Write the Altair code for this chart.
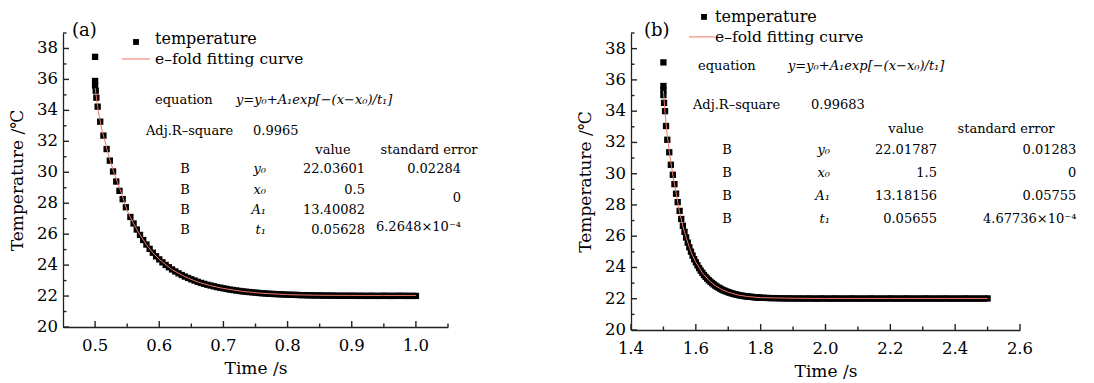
import altair as alt
import pandas as pd

FONT = "DejaVu Serif"
AX = "#222222"
FIT_COLOR = "#ee7766"

# ---------------- panel (a) data ----------------
TIME_A_START = [0.500, 0.500, 0.500, 0.501, 0.502, 0.504, 0.508, 0.513, 0.518, 0.523,
                0.528, 0.533, 0.538, 0.543, 0.548]
TEMP_A_START = [37.46, 35.90, 35.60, 35.27, 34.82, 34.24, 33.27, 32.37, 31.50, 30.75,
                30.05, 29.40, 28.80, 28.26, 27.74]
TIME_A_DENSE = [0.555, 0.560, 0.565, 0.570, 0.575, 0.580, 0.585, 0.590, 0.595, 0.600,
                0.605, 0.610, 0.615, 0.620, 0.625, 0.630, 0.635, 0.640, 0.645, 0.650,
                0.655, 0.660, 0.665, 0.670, 0.675, 0.680, 0.685, 0.690, 0.695, 0.700,
                0.705, 0.710, 0.715, 0.720, 0.725, 0.730, 0.735, 0.740, 0.745, 0.750,
                0.755, 0.760, 0.765, 0.770, 0.775, 0.780, 0.785, 0.790, 0.795, 0.800,
                0.805, 0.810, 0.815, 0.820, 0.825, 0.830, 0.835, 0.840, 0.845, 0.850,
                0.855, 0.860, 0.865, 0.870, 0.875, 0.880, 0.885, 0.890, 0.895, 0.900,
                0.905, 0.910, 0.915, 0.920, 0.925, 0.930, 0.935, 0.940, 0.945, 0.950,
                0.955, 0.960, 0.965, 0.970, 0.975, 0.980, 0.985, 0.990, 0.995, 1.000]
TEMP_A_DENSE = [27.11, 26.69, 26.30, 25.95, 25.62, 25.33, 25.05, 24.80, 24.57, 24.37,
                24.18, 24.01, 23.86, 23.72, 23.59, 23.47, 23.36, 23.26, 23.17, 23.08,
                23.00, 22.92, 22.85, 22.79, 22.73, 22.68, 22.63, 22.58, 22.54, 22.50,
                22.46, 22.42, 22.39, 22.36, 22.33, 22.30, 22.28, 22.26, 22.24, 22.22,
                22.20, 22.18, 22.17, 22.15, 22.14, 22.13, 22.12, 22.11, 22.10, 22.09,
                22.08, 22.08, 22.07, 22.06, 22.06, 22.05, 22.05, 22.04, 22.04, 22.04,
                22.03, 22.03, 22.03, 22.03, 22.02, 22.02, 22.02, 22.02, 22.02, 22.02,
                22.02, 22.01, 22.02, 22.01, 22.01, 22.02, 22.01, 22.01, 22.01, 22.02,
                22.01, 22.01, 22.01, 22.01, 22.02, 22.01, 22.01, 22.01, 22.01, 22.01]
FIT_A_TIME = [0.500, 0.505, 0.510, 0.515, 0.520, 0.525, 0.530, 0.540, 0.550, 0.560,
              0.570, 0.580, 0.590, 0.600, 0.620, 0.640, 0.660, 0.680, 0.700, 0.730,
              0.760, 0.800, 0.850, 0.900, 0.950, 1.000]
FIT_A_TEMP = [35.45, 33.95, 32.85, 32.05, 31.25, 30.55, 29.90, 28.78, 27.52, 26.68,
              25.95, 25.33, 24.80, 24.37, 23.71, 23.25, 22.91, 22.67, 22.49, 22.30,
              22.18, 22.09, 22.05, 22.04, 22.04, 22.04]

# ---------------- panel (b) data ----------------
TIME_B_START = [1.500, 1.500, 1.500, 1.500, 1.502, 1.505, 1.508, 1.512, 1.518, 1.523,
                1.529, 1.534, 1.539, 1.544, 1.550]
TEMP_B_START = [37.12, 35.61, 35.35, 35.03, 34.53, 34.00, 33.05, 32.17, 31.37, 30.57,
                29.93, 29.33, 28.72, 28.18, 27.62]
TIME_B_DENSE = [1.555, 1.560, 1.565, 1.570, 1.575, 1.580, 1.585, 1.590, 1.595, 1.600,
                1.605, 1.610, 1.615, 1.620, 1.625, 1.630, 1.635, 1.640, 1.645, 1.650,
                1.655, 1.660, 1.665, 1.670, 1.675, 1.680, 1.685, 1.690, 1.695, 1.700,
                1.705, 1.710, 1.715, 1.720, 1.725, 1.730, 1.735, 1.740, 1.745, 1.750,
                1.755, 1.760, 1.765, 1.770, 1.775, 1.780, 1.785, 1.790, 1.795, 1.800,
                1.81, 1.82, 1.83, 1.84, 1.85, 1.86, 1.87, 1.88, 1.89, 1.90,
                1.91, 1.92, 1.93, 1.94, 1.95, 1.96, 1.97, 1.98, 1.99, 2.00,
                2.01, 2.02, 2.03, 2.04, 2.05, 2.06, 2.07, 2.08, 2.09, 2.10,
                2.11, 2.12, 2.13, 2.14, 2.15, 2.16, 2.17, 2.18, 2.19, 2.20,
                2.21, 2.22, 2.23, 2.24, 2.25, 2.26, 2.27, 2.28, 2.29, 2.30,
                2.31, 2.32, 2.33, 2.34, 2.35, 2.36, 2.37, 2.38, 2.39, 2.40,
                2.41, 2.42, 2.43, 2.44, 2.45, 2.46, 2.47, 2.48, 2.49, 2.50]
TEMP_B_DENSE = [27.10, 26.67, 26.28, 25.92, 25.59, 25.29, 25.01, 24.76, 24.53, 24.33,
                24.14, 23.96, 23.80, 23.66, 23.52, 23.40, 23.29, 23.18, 23.09, 23.00,
                22.92, 22.84, 22.77, 22.71, 22.65, 22.59, 22.54, 22.50, 22.46, 22.42,
                22.38, 22.35, 22.32, 22.29, 22.27, 22.24, 22.22, 22.20, 22.18, 22.17,
                22.15, 22.14, 22.13, 22.12, 22.11, 22.10, 22.09, 22.08, 22.07, 22.07,
                22.06, 22.05, 22.04, 22.04, 22.03, 22.03, 22.02, 22.02, 22.02, 22.02,
                22.01, 22.02, 22.01, 22.01, 22.02, 22.01, 22.01, 22.01, 22.02, 22.01,
                22.01, 22.01, 22.02, 22.01, 22.01, 22.01, 22.01, 22.02, 22.01, 22.01,
                22.01, 22.01, 22.01, 22.02, 22.01, 22.01, 22.01, 22.01, 22.01, 22.02,
                22.01, 22.01, 22.01, 22.01, 22.02, 22.01, 22.01, 22.01, 22.01, 22.01,
                22.02, 22.01, 22.01, 22.01, 22.01, 22.01, 22.02, 22.01, 22.01, 22.01,
                22.01, 22.01, 22.02, 22.01, 22.01, 22.01, 22.01, 22.01, 22.01, 22.02]
FIT_B_TIME = [1.500, 1.505, 1.510, 1.515, 1.520, 1.525, 1.530, 1.540, 1.550, 1.560,
              1.570, 1.580, 1.590, 1.600, 1.620, 1.640, 1.660, 1.680, 1.700, 1.730,
              1.760, 1.800, 1.900, 2.000, 2.200, 2.500]
FIT_B_TEMP = [35.30, 33.90, 32.80, 31.95, 31.15, 30.45, 29.80, 28.68, 27.50, 26.64,
              25.92, 25.29, 24.76, 24.33, 23.66, 23.18, 22.84, 22.59, 22.42, 22.24,
              22.14, 22.07, 22.03, 22.02, 22.02, 22.02]

# ---------------- axis tick values / labels ----------------
Y_MAJOR = [20, 22, 24, 26, 28, 30, 32, 34, 36, 38]
Y_MINOR = [21, 23, 25, 27, 29, 31, 33, 35, 37, 39]
XA_MAJOR = [0.5, 0.6, 0.7, 0.8, 0.9, 1.0]
XA_MINOR = [0.55, 0.65, 0.75, 0.85, 0.95, 1.05]
XB_MAJOR = [1.4, 1.6, 1.8, 2.0, 2.2, 2.4, 2.6]
XB_MINOR = [1.5, 1.7, 1.9, 2.1, 2.3, 2.5]

# ---------------- fit table texts ----------------
LEGEND_POINTS = "temperature"
LEGEND_LINE = "e\u2013fold fitting curve"
EQUATION = "y=y\u2080+A\u2081exp[\u2212(x\u2212x\u2080)/t\u2081]"
PARAMS = ["y\u2080", "x\u2080", "A\u2081", "t\u2081"]
VALUES_A = ["22.03601", "0.5", "13.40082", "0.05628"]
ERRORS_A = ["0.02284", "0", "6.2648\u00d710\u207b\u2074"]
ADJ_A = "0.9965"
VALUES_B = ["22.01787", "1.5", "13.18156", "0.05655"]
ERRORS_B = ["0.01283", "0", "0.05755", "4.67736\u00d710\u207b\u2074"]
ADJ_B = "0.99683"

ONE = pd.DataFrame({"k": [0]})
Y_DOM = [20, 39]


def txt(x, y, s, align="left", size=13, style="normal"):
    return alt.Chart(ONE).mark_text(
        text=s, align=align, baseline="middle", font=FONT, fontSize=size,
        fontStyle=style, color="black"
    ).encode(x=alt.datum(x), y=alt.datum(y))


def seg_rule(x1, x2, y1, y2):
    # one short axis tick, drawn through the chart's own scales
    return alt.Chart(ONE).mark_rule(color=AX, strokeWidth=1.4, opacity=1).encode(
        x=alt.datum(x1), x2=alt.datum(x2), y=alt.datum(y1), y2=alt.datum(y2))


def panel(times, temps, fit_t, fit_y, xdom, xmaj, xmin, w, h, extra):
    xs = alt.Scale(domain=xdom, nice=False, zero=False)
    ys = alt.Scale(domain=Y_DOM, nice=False, zero=False)
    ux = (xdom[1] - xdom[0]) / w      # data units per pixel (x)
    uy = (Y_DOM[1] - Y_DOM[0]) / h    # data units per pixel (y)
    pts = pd.DataFrame({"t": times, "T": temps})
    fit = pd.DataFrame({"t": fit_t, "T": fit_y})
    xaxis = alt.Axis(labels=False, ticks=False, grid=False, title="Time /s",
                     titlePadding=33)
    yaxis = alt.Axis(labels=False, ticks=False, grid=False, title="Temperature /\u2103",
                     titlePadding=37)
    X = lambda f: alt.X(f, type="quantitative", scale=xs)
    Y = lambda f: alt.Y(f, type="quantitative", scale=ys)

    scatter = alt.Chart(pts).mark_square(size=40, color="black", opacity=1).encode(
        x=alt.X("t:Q", scale=xs, axis=xaxis), y=alt.Y("T:Q", scale=ys, axis=yaxis))
    line = alt.Chart(fit).mark_line(color=FIT_COLOR, strokeWidth=1).encode(
        x=X("t"), y=Y("T"))

    # inward ticks (one small rule per tick value)
    ticks = []
    for v in xmaj:
        ticks.append(seg_rule(v, v, Y_DOM[0], Y_DOM[0] + 6 * uy))
    for v in xmin:
        ticks.append(seg_rule(v, v, Y_DOM[0], Y_DOM[0] + 3.5 * uy))
    for v in Y_MAJOR:
        ticks.append(seg_rule(xdom[0], xdom[0] + 6 * ux, v, v))
    for v in Y_MINOR:
        ticks.append(seg_rule(xdom[0], xdom[0] + 3.5 * ux, v, v))

    # tick labels
    xl = pd.DataFrame({"t": xmaj, "T": [Y_DOM[0]] * len(xmaj),
                       "lab": ["%.1f" % v for v in xmaj]})
    yl = pd.DataFrame({"t": [xdom[0]] * len(Y_MAJOR), "T": Y_MAJOR,
                       "lab": [str(v) for v in Y_MAJOR]})
    xlab = alt.Chart(xl).mark_text(align="center", baseline="top", dy=11, font=FONT,
                                   fontSize=16.5, color="black").encode(
        x=X("t"), y=Y("T"), text="lab:N")
    ylab = alt.Chart(yl).mark_text(align="right", baseline="middle", dx=-5, font=FONT,
                                   fontSize=16.5, color="black").encode(
        x=X("t"), y=Y("T"), text="lab:N")

    layers = [scatter, line] + ticks + [xlab, ylab] + extra
    return alt.layer(*layers).properties(width=w, height=h)


def table(lab, lab_xy, sq_xy, lt_x, line_x1, line_x2, line_y, leg1_y,
          eq_x, eq_lx, eq_y, adj_x, adjv_x, adj_y, adjv, val_cx, err_cx, hdr_y,
          b_x, p_x, v_x, e_x, rows_y, values, errors, err_y):
    out = [
        txt(lab_xy[0], lab_xy[1], lab, size=18),
        alt.Chart(ONE).mark_square(size=34, color="black", opacity=1).encode(
            x=alt.datum(sq_xy[0]), y=alt.datum(sq_xy[1])),
        txt(lt_x, leg1_y, LEGEND_POINTS, size=16),
        alt.Chart(ONE).mark_rule(color=FIT_COLOR, strokeWidth=1).encode(
            x=alt.datum(line_x1), x2=alt.datum(line_x2), y=alt.datum(line_y)),
        txt(lt_x, line_y, LEGEND_LINE, size=15.5),
        txt(eq_lx, eq_y, "equation"),
        txt(eq_x, eq_y, EQUATION, style="italic"),
        txt(adj_x, adj_y, "Adj.R\u2013square"),
        txt(adjv_x, adj_y, adjv),
        txt(val_cx, hdr_y, "value", align="center"),
        txt(err_cx, hdr_y, "standard error", align="center"),
    ]
    for i, ry in enumerate(rows_y):
        out.append(txt(b_x, ry, "B", align="center"))
        out.append(txt(p_x, ry, PARAMS[i], align="right", style="italic"))
        out.append(txt(v_x, ry, values[i], align="right"))
    for s, ey in zip(errors, err_y):
        out.append(txt(e_x, ey, s, align="right"))
    return out


extra_a = table("(a)", (0.464, 39.13), (0.5638, 38.42), 0.5934, 0.5419, 0.5856, 37.32, 38.61,
                0.7196, 0.5934, 34.67, 0.5793, 0.7461, 32.67, ADJ_A, 0.8708, 1.0204, 31.44,
                0.6401, 0.7664, 0.9206, 1.0702, [30.21, 28.85, 27.56, 26.27],
                VALUES_A, ERRORS_A, [30.21, 28.34, 26.46])

extra_b = table("(b)", (1.4401, 39.13), (1.6252, 40.03), 1.6591, 1.5789, 1.6591, 38.75, 40.03,
                1.8843, 1.6067, 36.89, 1.5912, 1.9552, 34.40, ADJ_B, 2.2482, 2.5567, 32.86,
                1.6961, 2.0138, 2.3439, 2.7739, [31.52, 30.04, 28.57, 27.10],
                VALUES_B, ERRORS_B, [31.52, 30.04, 28.57, 27.10])

pa = panel(TIME_A_START + TIME_A_DENSE, TEMP_A_START + TEMP_A_DENSE, FIT_A_TIME, FIT_A_TEMP,
           [0.45, 1.05], XA_MAJOR, XA_MINOR, 385, 294, extra_a)
pb = panel(TIME_B_START + TIME_B_DENSE, TEMP_B_START + TEMP_B_DENSE, FIT_B_TIME, FIT_B_TEMP,
           [1.4, 2.6], XB_MAJOR, XB_MINOR, 389, 297, extra_b)

chart = alt.hconcat(pa, pb, spacing=183, bounds="flush").properties(
    padding={"left": 0, "top": 0, "right": 5, "bottom": 5}
).configure_view(strokeWidth=0).configure_axis(
    domainColor=AX, domainWidth=1.3, grid=False,
    titleFont=FONT, titleFontSize=17, titleFontWeight="normal", titleColor="black",
)

chart.save("out.html", embed_options={"renderer": "svg", "actions": False})
